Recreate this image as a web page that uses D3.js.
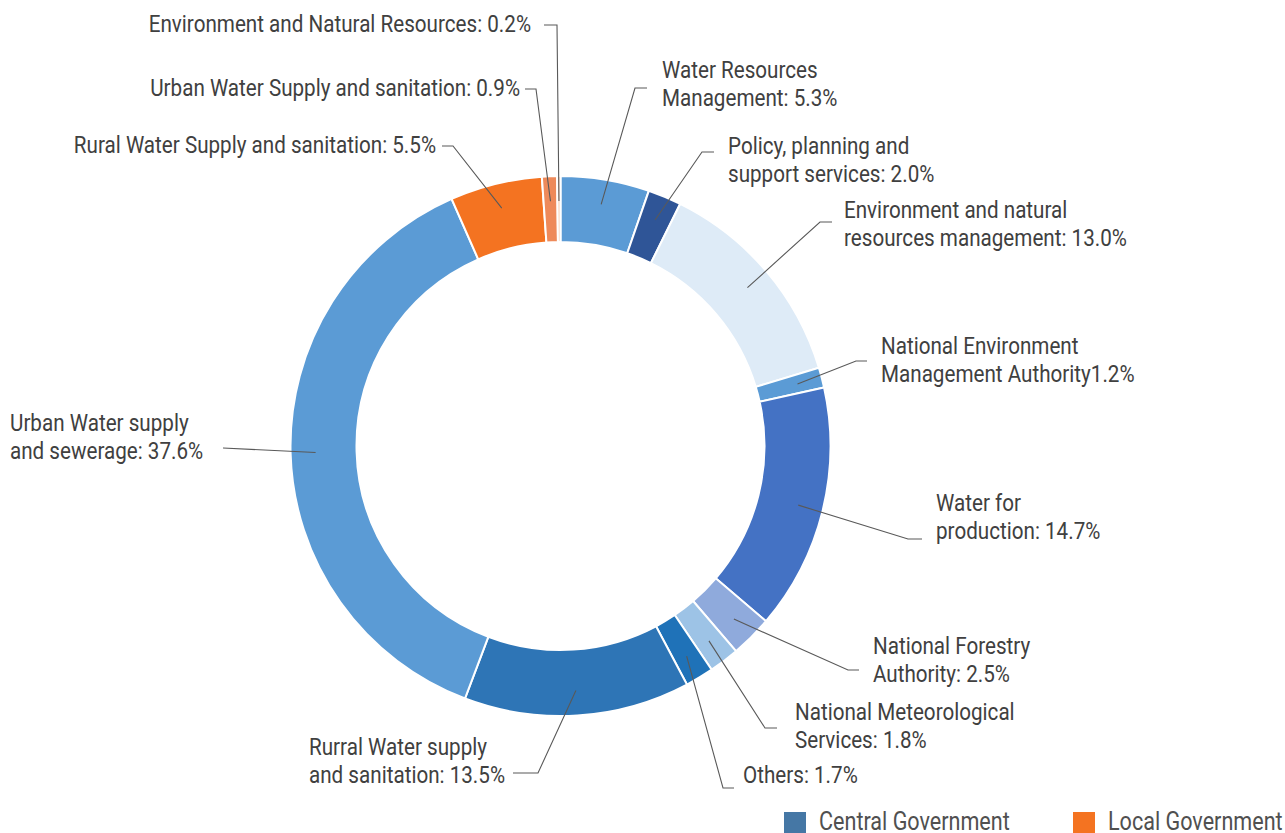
<!DOCTYPE html>
<html>
<head>
<meta charset="utf-8">
<script src="https://cdn.jsdelivr.net/npm/d3@7"></script>
<style>
  html, body { margin: 0; padding: 0; background: #fff; }
  svg { display: block; }
  text { font-family: "Roboto", "Liberation Sans", sans-serif; }
</style>
</head>
<body>
<svg id="chart" width="1285" height="833"></svg>
<script>
// ---------- data ----------
const categories = [
  "Water Resources Management",
  "Policy, planning and support services",
  "Environment and natural resources management",
  "National Environment Management Authority",
  "Water for production",
  "National Forestry Authority",
  "National Meteorological Services",
  "Others",
  "Rurral Water supply and sanitation",
  "Urban Water supply and sewerage",
  "Rural Water Supply and sanitation",
  "Urban Water Supply and sanitation",
  "Environment and Natural Resources"
];
const values = [5.3, 2.0, 13.0, 1.2, 14.7, 2.5, 1.8, 1.7, 13.5, 37.6, 5.5, 0.9, 0.2];
const groups = ["Central","Central","Central","Central","Central","Central","Central","Central","Central","Central","Local","Local","Local"];
const labelTexts = [
  ["Water Resources", "Management: 5.3%"],
  ["Policy, planning and", "support services: 2.0%"],
  ["Environment and natural", "resources management: 13.0%"],
  ["National Environment", "Management Authority1.2%"],
  ["Water for", "production: 14.7%"],
  ["National Forestry", "Authority: 2.5%"],
  ["National Meteorological", "Services: 1.8%"],
  ["Others: 1.7%"],
  ["Rurral Water supply", "and sanitation: 13.5%"],
  ["Urban Water supply", "and sewerage: 37.6%"],
  ["Rural Water Supply and sanitation: 5.5%"],
  ["Urban Water Supply and sanitation: 0.9%"],
  ["Environment and Natural Resources: 0.2%"]
];
const legendItems = ["Central Government", "Local Government"];

// ---------- styles ----------
const sliceColors = ["#5b9bd5","#2f5597","#deebf7","#5b9bd5","#4472c4","#8faadc","#9dc3e6","#1f72b8","#2e75b6","#5b9bd5","#f47321","#ee8a5a","#f8cbad"];
const legendColors = ["#4577a5", "#f47321"];

// label layout: text x, first-line center y, anchor, elbow point, end of horizontal tick
const labelLayout = [
  {x: 662, y: 70,  anchor: "start", ex: 635, ey: 88,  hx: 647},
  {x: 728, y: 146, anchor: "start", ex: 702, ey: 152, hx: 714},
  {x: 844, y: 210, anchor: "start", ex: 820, ey: 222, hx: 832},
  {x: 881, y: 346, anchor: "start", ex: 856, ey: 361, hx: 867},
  {x: 936, y: 503, anchor: "start", ex: 908, ey: 539, hx: 922},
  {x: 873, y: 646, anchor: "start", ex: 848, ey: 670, hx: 859},
  {x: 795, y: 712, anchor: "start", ex: 765, ey: 728, hx: 777},
  {x: 743, y: 775, anchor: "start", ex: 723, ey: 788, hx: 734},
  {x: 309, y: 747, anchor: "start", ex: 538, ey: 773, hx: 513},
  {x: 10,  y: 423, anchor: "start", ex: 223, ey: 448, hx: 223},
  {x: 436, y: 145, anchor: "end",   ex: 453, ey: 146, hx: 442},
  {x: 520, y: 88,  anchor: "end",   ex: 536, ey: 89,  hx: 525},
  {x: 531, y: 24,  anchor: "end",   ex: 557, ey: 25,  hx: 544}
];

const cx = 560.5, cy = 446, rOuter = 270, rInner = 204, rLeader = 245;
const lineHeight = 28;
const labelScaleX = 0.86, legendScaleX = 0.83;

const svg = d3.select("#chart");
const g = svg.append("g").attr("transform", `translate(${cx},${cy})`);

const data = categories.map((c, i) => ({name: c, value: values[i], color: sliceColors[i], group: groups[i], i}));

const pie = d3.pie().value(d => d.value).sort(null);
const arcs = pie(data);
const arc = d3.arc().innerRadius(rInner).outerRadius(rOuter);
const leaderArc = d3.arc().innerRadius(rLeader).outerRadius(rLeader);

g.selectAll("path.slice")
  .data(arcs)
  .join("path")
  .attr("class", "slice")
  .attr("d", arc)
  .attr("fill", d => d.data.color)
  .attr("stroke", "#ffffff")
  .attr("stroke-width", 2);

// leader lines
const lines = svg.append("g");
arcs.forEach((a, i) => {
  const [px, py] = leaderArc.centroid(a);
  const L = labelLayout[i];
  const pts = [[cx + px, cy + py], [L.ex, L.ey], [L.hx, L.ey]];
  lines.append("path")
    .attr("d", d3.line()(pts))
    .attr("fill", "none")
    .attr("stroke", "#595959")
    .attr("stroke-width", 1.1);
});

// labels
const labels = svg.append("g");
labelTexts.forEach((lns, i) => {
  const L = labelLayout[i];
  const t = labels.append("g")
    .attr("transform", `translate(${L.x},${L.y}) scale(${labelScaleX},1)`)
    .append("text")
    .attr("text-anchor", L.anchor)
    .attr("font-size", 24)
    .attr("fill", "#404040");
  lns.forEach((s, k) => {
    t.append("tspan")
      .attr("x", 0)
      .attr("y", k * lineHeight)
      .attr("dy", "0.35em")
      .text(s);
  });
});

// legend
const legendX = [784, 1073];
const lg = svg.append("g");
legendItems.forEach((name, i) => {
  lg.append("rect")
    .attr("x", legendX[i]).attr("y", 812)
    .attr("width", 22).attr("height", 21)
    .attr("fill", legendColors[i]);
  lg.append("g")
    .attr("transform", `translate(${legendX[i] + 35},821) scale(${legendScaleX},1)`)
    .append("text")
    .attr("dy", "0.35em")
    .attr("font-size", 26)
    .attr("fill", "#505050")
    .text(name);
});
</script>
</body>
</html>
